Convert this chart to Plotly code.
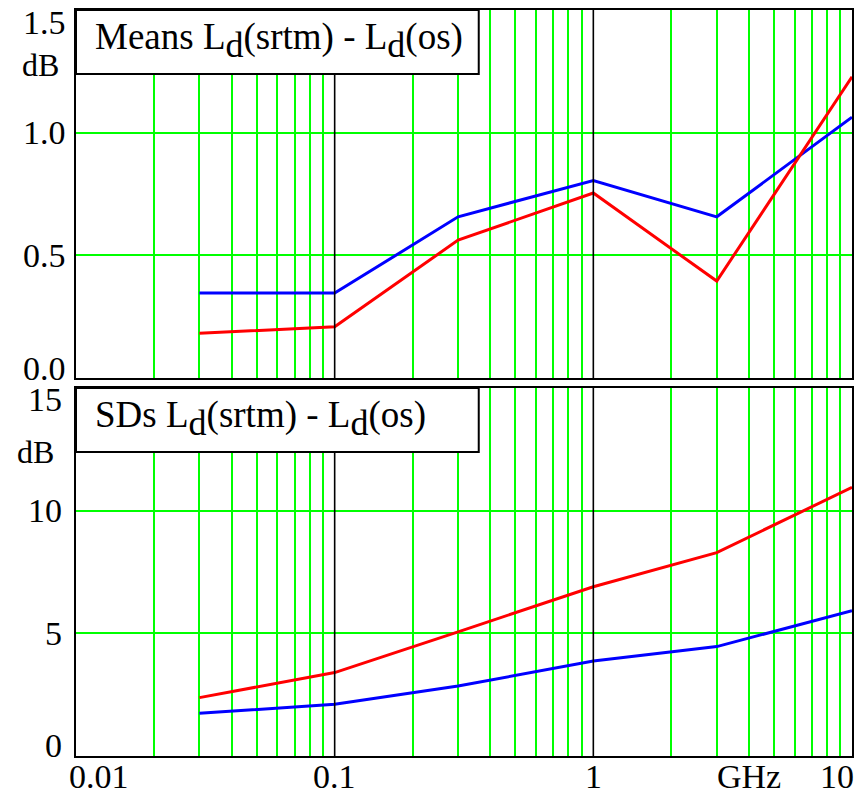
import math
import plotly.graph_objects as go

# ---- data ----
freq_ghz = [0.03, 0.1, 0.3, 1, 3, 10]
mean_blue = [0.346, 0.346, 0.657, 0.805, 0.657, 1.063]
mean_red = [0.182, 0.209, 0.562, 0.754, 0.395, 1.228]
sd_red = [2.38, 3.40, 5.06, 6.90, 8.29, 10.95]
sd_blue = [1.74, 2.11, 2.85, 3.87, 4.46, 5.92]

x_major = [0.1, 1]
x_minor = [m * d for d in (0.01, 0.1, 1) for m in range(2, 10)]
x_label_vals = [0.01, 0.1, 1, 3, 10]
x_label_text = ["0.01", "0.1", "1", "GHz", "10"]

top_tick_vals = [0.0, 0.5, 1.0, 1.5]
top_tick_text = ["0.0", "0.5", "1.0", "1.5"]
bot_tick_vals = [0, 5, 10, 15]
bot_tick_text = ["0", "5", "10", "15"]

SUB = "<sub><span style='font-size:36px'>d</span></sub>"
top_title = f"Means L{SUB}(srtm) - L{SUB}(os)"
bot_title = f"SDs L{SUB}(srtm) - L{SUB}(os)"

FONT = "Liberation Serif"
GREEN = "#00ff00"

fig = go.Figure()
fig.add_trace(go.Scatter(x=freq_ghz, y=mean_blue, mode="lines",
                         line=dict(color="#0000ff", width=3), xaxis="x", yaxis="y"))
fig.add_trace(go.Scatter(x=freq_ghz, y=mean_red, mode="lines",
                         line=dict(color="#ff0000", width=3), xaxis="x", yaxis="y"))
fig.add_trace(go.Scatter(x=freq_ghz, y=sd_red, mode="lines",
                         line=dict(color="#ff0000", width=3), xaxis="x2", yaxis="y2"))
fig.add_trace(go.Scatter(x=freq_ghz, y=sd_blue, mode="lines",
                         line=dict(color="#0000ff", width=3), xaxis="x2", yaxis="y2"))

xcommon = dict(type="log", range=[-2, 1], showgrid=False, zeroline=False,
               tickvals=[], showline=True, linecolor="black", linewidth=2, mirror=True,
               minor=dict(tickvals=x_minor, showgrid=True, gridcolor=GREEN, gridwidth=1.5,
                          ticks=""))

ycommon = dict(showgrid=True, gridcolor=GREEN, gridwidth=1.5, zeroline=False,
               showticklabels=False, ticks="", showline=True, linecolor="black",
               linewidth=2, mirror=True)

fig.update_layout(
    width=862, height=792,
    margin=dict(l=76, r=8, t=10, b=36),
    paper_bgcolor="white", plot_bgcolor="white",
    showlegend=False,
    font=dict(family=FONT, color="black", size=34),
    xaxis=dict(**xcommon, domain=[0, 1], anchor="y"),
    yaxis=dict(**ycommon, domain=[0.5067, 1], range=[0, 1.5], tickvals=top_tick_vals,
               anchor="x"),
    xaxis2=dict(**xcommon, domain=[0, 1], anchor="y2"),
    yaxis2=dict(**ycommon, domain=[0, 0.4933], range=[0, 15], tickvals=bot_tick_vals,
                anchor="x2"),
)

shapes = []
for xa, ya in (("x", "y"), ("x2", "y2")):
    for xv in x_major:
        shapes.append(dict(type="line", xref=xa, yref=ya + " domain", x0=xv, x1=xv,
                           y0=0, y1=1, line=dict(color="black", width=1.6), layer="above"))
    shapes.append(dict(type="rect", xref=xa + " domain", yref=ya + " domain",
                       x0=0, x1=0.519, y0=0.826, y1=1, fillcolor="white",
                       line=dict(color="black", width=2), layer="above"))
fig.update_layout(shapes=shapes)

ann = []
for title, xa, ya in ((top_title, "x", "y"), (bot_title, "x2", "y2")):
    ann.append(dict(text=title, xref=xa + " domain", yref=ya + " domain", x=0.022, y=0.918,
                    xanchor="left", yanchor="middle", showarrow=False,
                    font=dict(size=37)))

# y tick labels
for vals, texts, ya, xs in ((top_tick_vals, top_tick_text, "y", -8),
                            (bot_tick_vals, bot_tick_text, "y2", -12)):
    for i, (v, t) in enumerate(zip(vals, texts)):
        ys = 0
        if i == 0:
            ys = 10
        elif i == len(vals) - 1:
            ys = -12
        ann.append(dict(text=t, xref="paper", yref=ya, x=0, y=v, xanchor="right",
                        yanchor="middle", xshift=xs, yshift=ys, showarrow=False))
ann.append(dict(text="dB", xref="paper", yref="y domain", x=0, y=0.85, xanchor="right",
                yanchor="middle", xshift=-15, showarrow=False, font=dict(size=32)))
ann.append(dict(text="dB", xref="paper", yref="y2 domain", x=0, y=0.826, xanchor="right",
                yanchor="middle", xshift=-20, showarrow=False, font=dict(size=32)))

# x tick labels (annotations on a log axis take log10 positions)
for v, t in zip(x_label_vals, x_label_text):
    xa, xs = "center", 0
    if v == x_label_vals[0]:
        xa, xs = "left", -9
    elif v == x_label_vals[-1]:
        xa, xs = "right", 4
    elif t == "GHz":
        xa, xs = "left", -2
    ann.append(dict(text=t, xref="x2", yref="paper", x=math.log10(v), y=0,
                    xanchor=xa, yanchor="top", xshift=xs, yshift=0, showarrow=False))
fig.update_layout(annotations=ann)

fig.write_html("out.html", config={"displayModeBar": False},
               post_script="document.body.style.margin='0';document.body.style.padding='0';")
